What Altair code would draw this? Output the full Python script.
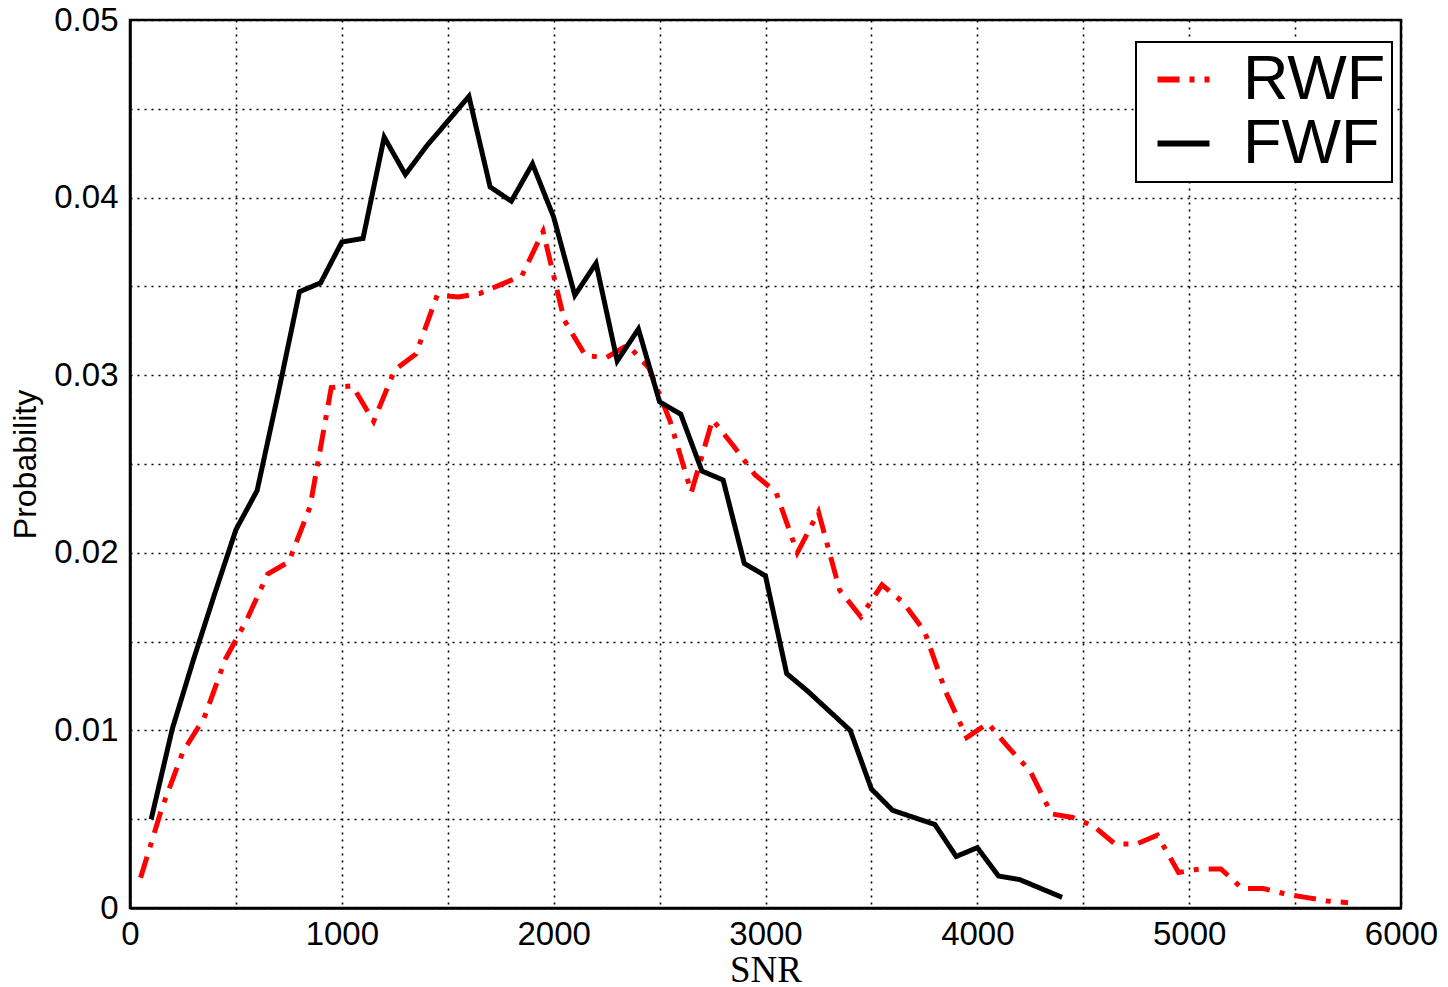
import altair as alt
import pandas as pd

# ---- data ----
fwf_x = [100, 200, 300, 400, 500, 600, 700, 800, 900, 1000,
         1100, 1200, 1300, 1400, 1500, 1600, 1700, 1800, 1900, 2000,
         2100, 2200, 2300, 2400, 2500, 2600, 2700, 2800, 2900, 3000,
         3100, 3200, 3300, 3400, 3500, 3600, 3700, 3800, 3900, 4000,
         4100, 4200, 4300, 4400]
fwf_y = [0.0050, 0.0101, 0.0140, 0.0177, 0.0213, 0.0235, 0.0290, 0.0347, 0.0352, 0.0375,
         0.0377, 0.0434, 0.0413, 0.0429, 0.0443, 0.0457, 0.0406, 0.0398, 0.0419, 0.0389,
         0.0345, 0.0363, 0.0308, 0.0326, 0.0285, 0.0278, 0.0246, 0.0241, 0.0194, 0.0187,
         0.0132, 0.0122, 0.0111, 0.0100, 0.0067, 0.0055, 0.0051, 0.0047, 0.0029, 0.0034,
         0.0018, 0.0016, 0.0011, 0.0006]

rwf_x = [50, 150, 250, 350, 450, 550, 650, 750, 850, 950,
         1050, 1150, 1250, 1350, 1450, 1550, 1650, 1750, 1850, 1950,
         2050, 2150, 2250, 2350, 2450, 2550, 2650, 2750, 2850, 2950,
         3050, 3150, 3250, 3350, 3450, 3550, 3650, 3750, 3850, 3950,
         4050, 4150, 4250, 4350, 4450, 4550, 4650, 4750, 4850, 4950,
         5050, 5150, 5250, 5350, 5450, 5550, 5650, 5750]
rwf_y = [0.0017, 0.0056, 0.0088, 0.0107, 0.0140, 0.0162, 0.0188, 0.0195, 0.0226, 0.0293,
         0.0294, 0.0274, 0.0303, 0.0312, 0.0345, 0.0344, 0.0346, 0.0351, 0.0356, 0.0381,
         0.0331, 0.0311, 0.0310, 0.0317, 0.0304, 0.0274, 0.0234, 0.0275, 0.0260, 0.0244,
         0.0234, 0.0200, 0.0223, 0.0179, 0.0164, 0.0182, 0.0172, 0.0156, 0.0122, 0.0096,
         0.0104, 0.0090, 0.0077, 0.0053, 0.0051, 0.0046, 0.0036, 0.0036, 0.0041, 0.0020,
         0.0022, 0.0022, 0.0011, 0.0011, 0.0008, 0.0006, 0.0004, 0.0003]

series_names = ["RWF", "FWF"]
series_colors = ["#ff0000", "#000000"]
series_dashes = [[22, 10, 5, 10], [1, 0]]

x_grid = [0, 500, 1000, 1500, 2000, 2500, 3000, 3500, 4000, 4500, 5000, 5500, 6000]
y_grid = [0, 0.005, 0.01, 0.015, 0.02, 0.025, 0.03, 0.035, 0.04, 0.045, 0.05]

df = pd.concat([
    pd.DataFrame({"SNR": rwf_x, "P": rwf_y, "series": "RWF"}),
    pd.DataFrame({"SNR": fwf_x, "P": fwf_y, "series": "FWF"}),
], ignore_index=True)

FONT = "Liberation Sans"

x_enc = alt.X("SNR:Q",
              scale=alt.Scale(domain=[0, 6000], nice=False, zero=False),
              axis=alt.Axis(values=x_grid, format="d",
                            labelExpr="datum.value % 1000 == 0 ? datum.label : ''",
                            title="SNR", titleFont="Liberation Serif", titleFontSize=37,
                            titleFontWeight="normal", titleBaseline="alphabetic",
                            titleY=73, labelPadding=10))
y_enc = alt.Y("P:Q",
              scale=alt.Scale(domain=[0, 0.05], nice=False, zero=False),
              axis=alt.Axis(values=y_grid, format=".2~f",
                            labelExpr="round(datum.value * 1000) % 10 == 0 ? datum.label : ''",
                            title="Probability", titleFont=FONT, titleFontSize=32,
                            titleFontWeight="normal", titleBaseline="alphabetic",
                            titleX=-95, titleAngle=-90, labelPadding=12))
color_enc = alt.Color("series:N", scale=alt.Scale(domain=series_names, range=series_colors),
                      title=None)
dash_enc = alt.StrokeDash("series:N", scale=alt.Scale(domain=series_names, range=series_dashes),
                          title=None)

red = alt.Chart(df).transform_filter(alt.datum.series == "RWF").mark_line(
    strokeWidth=5, strokeJoin="miter", strokeCap="butt").encode(
    x=x_enc, y=y_enc, color=color_enc, strokeDash=dash_enc)
black = alt.Chart(df).transform_filter(alt.datum.series == "FWF").mark_line(
    strokeWidth=5, strokeJoin="miter", strokeCap="butt").encode(
    x=x_enc, y=y_enc, color=color_enc, strokeDash=dash_enc)

chart = alt.layer(red, black).properties(
    width=1271, height=888,
    autosize=alt.AutoSizeParams(type="none"),
    padding={"left": 122, "top": 12, "right": 39, "bottom": 79},
    background="white",
).configure_view(
    stroke="black", strokeWidth=2.5
).configure_axis(
    grid=True, gridColor="black", gridDash=[2, 5], gridWidth=1.6, gridOpacity=1,
    domain=True, domainColor="black", domainWidth=2.5,
    ticks=False, labelFont=FONT, labelFontSize=33, labelColor="black",
    titleColor="black", labelFlush=False, labelOverlap=False,
).configure_legend(
    orient="none", legendX=1006, legendY=22,
    fillColor="white", strokeColor="black", strokeWidth=2,
    padding=6, symbolType="stroke", symbolSize=2704, symbolStrokeWidth=6,
    symbolOffset=10, labelOffset=28, labelFont=FONT, labelFontSize=63,
    labelColor="black", rowPadding=-3, labelLimit=400,
)

chart.save("out.html", embed_options={"renderer": "svg", "actions": False})
